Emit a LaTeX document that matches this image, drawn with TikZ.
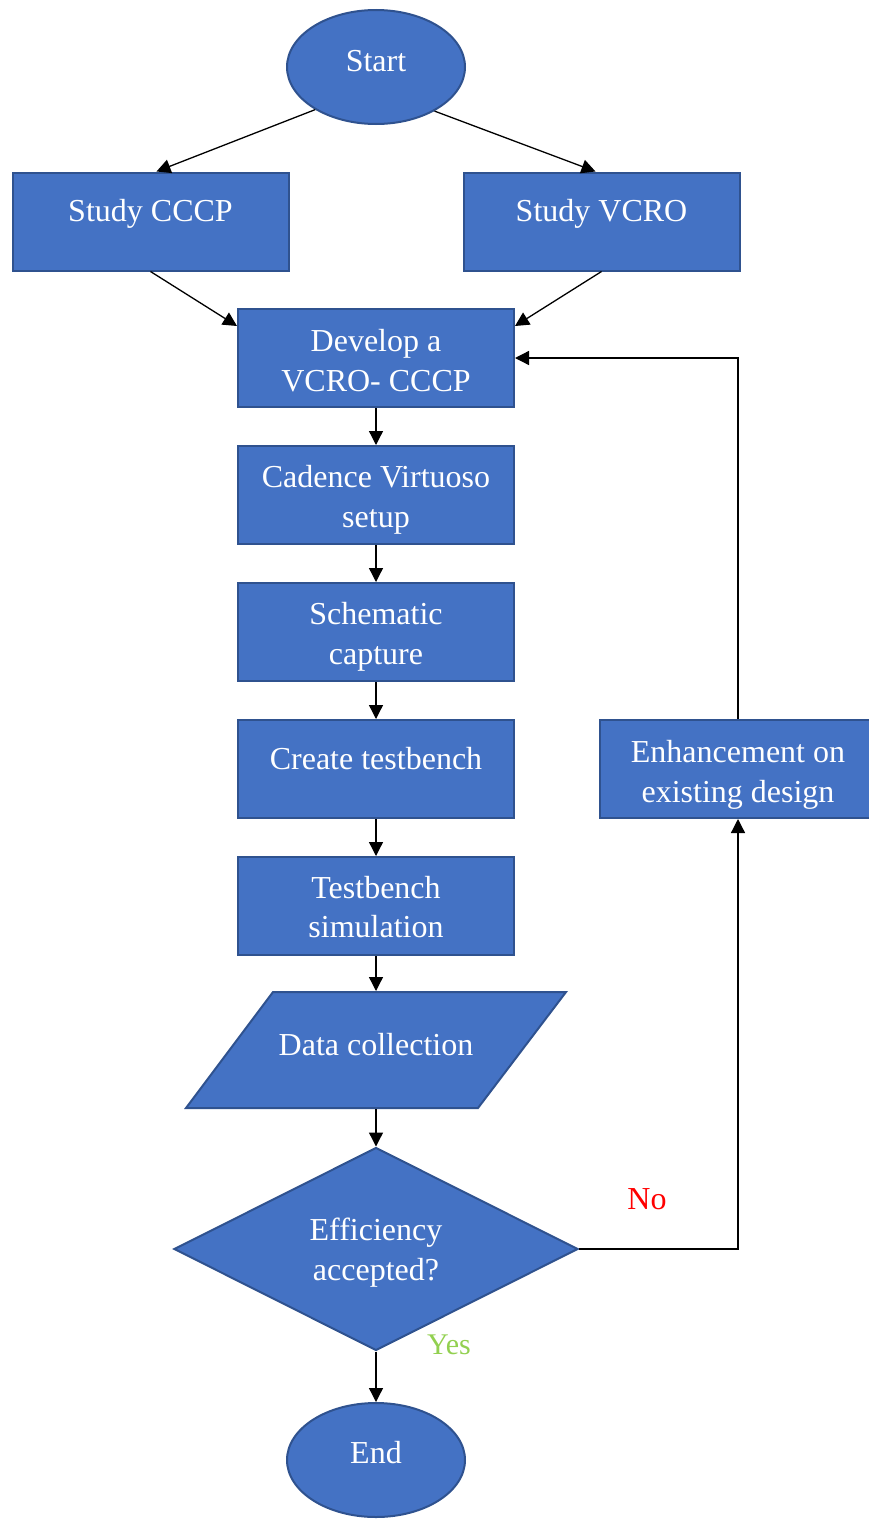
\documentclass[tikz,border=0pt]{standalone}
\usepackage{fontspec}
\setmainfont{Liberation Serif}
\usetikzlibrary{arrows.meta,shapes.geometric}
\definecolor{boxfill}{HTML}{4472C4}
\definecolor{boxline}{HTML}{2F528F}
\definecolor{yesgreen}{HTML}{92D050}
\begin{document}
\begin{tikzpicture}[x=1pt,y=-1pt,
  base/.style={fill=boxfill,draw=boxline,line width=2pt,text=white,
    font=\fontsize{32}{39.5}\selectfont,inner sep=0pt,align=center},
  procbox/.style={base,rectangle,minimum width=276pt,minimum height=98pt},
  termbox/.style={base,ellipse,minimum width=178pt,minimum height=114pt},
  decbox/.style={base,diamond,aspect=2,minimum width=404pt,minimum height=203pt},
  oneline/.style={text height=0pt,text depth=0pt},
  caption/.style={text=white,font=\fontsize{32}{39.5}\selectfont,inner sep=0pt,align=center},
  flow/.style={draw=black,line width=1.3pt,-{Triangle[length=14pt,width=14pt]}},
  answer/.style={font=\fontsize{32}{38}\selectfont,inner sep=0pt}
]
\useasboundingbox (0,0) rectangle (868,1523);

% terminals and process steps
\node[termbox,oneline,text height=8pt] (start) at (376,67) {Start};
\node[procbox,oneline] (s1) at (150.5,221.5) {Study CCCP};
\node[procbox,oneline] (s2) at (601.5,221.5) {Study VCRO};
\node[procbox] (dev) at (376,358) {};
\node[caption] (devt) at ([yshift=-2.5pt]dev.center) {Develop a\\VCRO- CCCP};
\node[procbox] (cad) at (376,495) {};
\node[caption] (cadt) at ([yshift=-5pt]cad.center) {Cadence Virtuoso\\setup};
\node[procbox] (sch) at (376,632) {};
\node[caption] (scht) at ([yshift=-5pt]sch.center) {Schematic\\capture};
\node[procbox,oneline] (tb) at (376,769) {Create testbench};
\node[procbox] (sim) at (376,906) {};
\node[caption] (simt) at ([yshift=-1pt]sim.center) {Testbench\\simulation};

% data (parallelogram)
\filldraw[fill=boxfill,draw=boxline,line width=2pt,line join=miter]
  (273,992) -- (566,992) -- (478,1108) -- (186,1108) -- cycle;
\node[base,fill=none,draw=none,minimum width=290pt,minimum height=116pt,
  oneline,text height=10pt] (data) at (376,1050) {Data collection};

% decision, end and feedback step
\node[decbox] (dec) at (376,1249) {};
\node[caption] (dect) at ([yshift=-3.5pt]dec.center) {Efficiency\\accepted?};
\node[termbox,oneline,text height=6pt] (end) at (376,1460) {End};
\node[procbox] (enh) at (738,769) {};
\node[caption] (enht) at ([yshift=-6pt]enh.center) {Enhancement on\\existing design};

% connectors
\draw[flow] (start.215) -- ([xshift=6pt]s1.north);
\draw[flow] (start.-37) -- ([xshift=-6pt]s2.north);
\draw[flow] (s1.south) -- ([yshift=-18pt]dev.north west);
\draw[flow] (s2.south) -- ([yshift=-18pt]dev.north east);
\draw[flow] (dev.south) -- (cad.north);
\draw[flow] (cad.south) -- (sch.north);
\draw[flow] (sch.south) -- (tb.north);
\draw[flow] (tb.south) -- (sim.north);
\draw[flow] (sim.south) -- (data.north);
\draw[flow] (data.south) -- (dec.north);
\draw[flow] (dec.south) -- (end.north);
\draw[flow] (dec.east) -| (enh.south);
\draw[flow] (enh.north) |- (dev.east);

% branch labels
\node[answer,text=red] (no) at (647,1199) {No};
\node[answer,text=yesgreen,font=\fontsize{30}{36}\selectfont] (yes) at (449,1345) {Yes};
\end{tikzpicture}
\end{document}
